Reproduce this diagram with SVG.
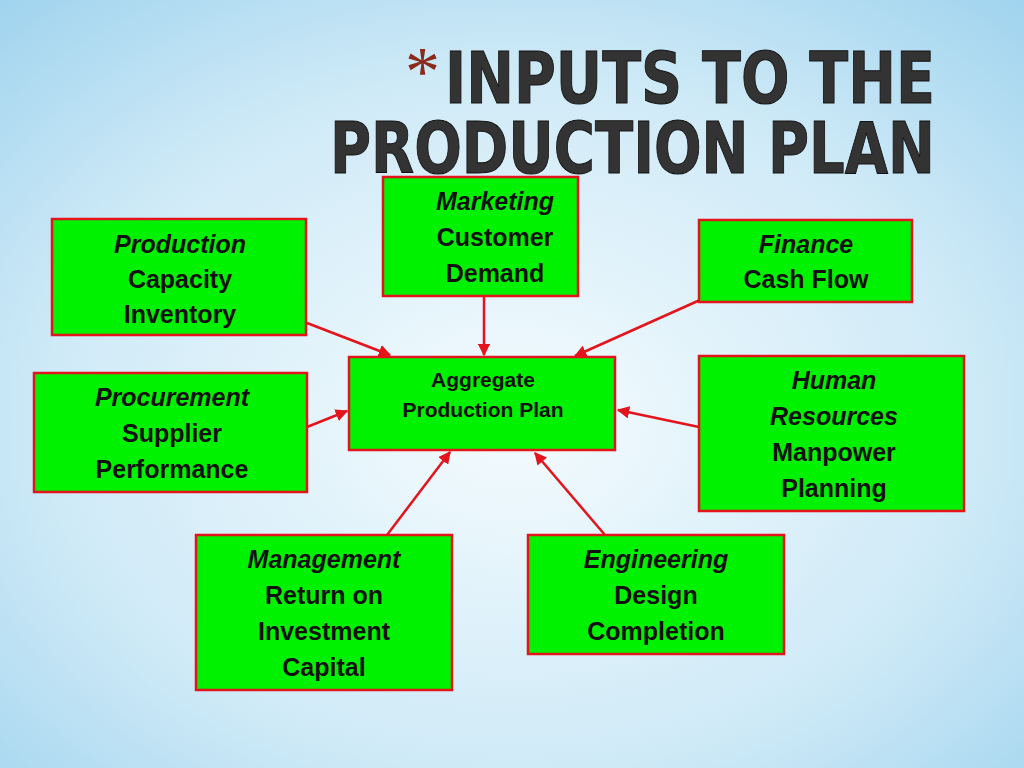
<svg xmlns="http://www.w3.org/2000/svg" width="1024" height="768" viewBox="0 0 1024 768">
<defs>
<radialGradient id="bg" cx="0.5" cy="0.55" r="0.75">
<stop offset="0" stop-color="#f4fbfe"/><stop offset="0.6" stop-color="#cfeaf7"/><stop offset="1" stop-color="#9fd3ee"/>
</radialGradient>
<marker id="ah" viewBox="0 0 10 10" refX="9" refY="5" markerWidth="5" markerHeight="5" orient="auto"><path d="M0,0 L10,5 L0,10 z" fill="#e3141b"/></marker>
</defs>
<style>
.box{fill:#00f200;stroke:#e3141b;stroke-width:2.5}
.t{font-family:"Liberation Sans",Arial,sans-serif;font-weight:bold;font-size:25px;fill:#111;text-anchor:middle}
.i{font-style:italic}
.s{font-size:21px}
.c{stroke:#e3141b;stroke-width:2.5;fill:none;marker-end:url(#ah)}
.ti{font-family:"DejaVu Sans",sans-serif;font-weight:bold;fill:#333;stroke:#111;stroke-width:1}
</style>
<rect width="1024" height="768" fill="url(#bg)"/>
<text x="405" y="95" font-family="Liberation Serif,serif" font-size="70" fill="#8a2a1a">*</text>
<text class="ti" x="445" y="103" font-size="72" textLength="490" lengthAdjust="spacingAndGlyphs">INPUTS TO THE</text>
<text class="ti" x="330" y="173" font-size="72" textLength="605" lengthAdjust="spacingAndGlyphs">PRODUCTION PLAN</text>
<g id="connectors">
<path class="c" d="M307,323 L390,355"/>
<path class="c" d="M484,296 L484,355"/>
<path class="c" d="M700,300 L575,356"/>
<path class="c" d="M307,427 L347,411"/>
<path class="c" d="M699,427 L618,410"/>
<path class="c" d="M387,535 L450,452"/>
<path class="c" d="M605,535 L535,453"/>
</g>
<g id="production"><rect class="box" x="52" y="219" width="254" height="116"/>
<text class="t" x="180" y="253"><tspan class="i">Production</tspan><tspan x="180" dy="35">Capacity</tspan><tspan x="180" dy="35">Inventory</tspan></text></g>
<g id="marketing"><rect class="box" x="383" y="177" width="195" height="119"/>
<text class="t" x="495" y="210"><tspan class="i">Marketing</tspan><tspan x="495" dy="36">Customer</tspan><tspan x="495" dy="36">Demand</tspan></text></g>
<g id="finance"><rect class="box" x="699" y="220" width="213" height="82"/>
<text class="t" x="806" y="253"><tspan class="i">Finance</tspan><tspan x="806" dy="35">Cash Flow</tspan></text></g>
<g id="aggregate"><rect class="box" x="349" y="357" width="266" height="93"/>
<text class="t s" x="483" y="387">Aggregate<tspan x="483" dy="30">Production Plan</tspan></text></g>
<g id="procurement"><rect class="box" x="34" y="373" width="273" height="119"/>
<text class="t" x="172" y="406"><tspan class="i">Procurement</tspan><tspan x="172" dy="36">Supplier</tspan><tspan x="172" dy="36">Performance</tspan></text></g>
<g id="hr"><rect class="box" x="699" y="356" width="265" height="155"/>
<text class="t" x="834" y="389"><tspan class="i">Human</tspan><tspan class="i" x="834" dy="36">Resources</tspan><tspan x="834" dy="36">Manpower</tspan><tspan x="834" dy="36">Planning</tspan></text></g>
<g id="management"><rect class="box" x="196" y="535" width="256" height="155"/>
<text class="t" x="324" y="568"><tspan class="i">Management</tspan><tspan x="324" dy="36">Return on</tspan><tspan x="324" dy="36">Investment</tspan><tspan x="324" dy="36">Capital</tspan></text></g>
<g id="engineering"><rect class="box" x="528" y="535" width="256" height="119"/>
<text class="t" x="656" y="568"><tspan class="i">Engineering</tspan><tspan x="656" dy="36">Design</tspan><tspan x="656" dy="36">Completion</tspan></text></g>
</svg>
